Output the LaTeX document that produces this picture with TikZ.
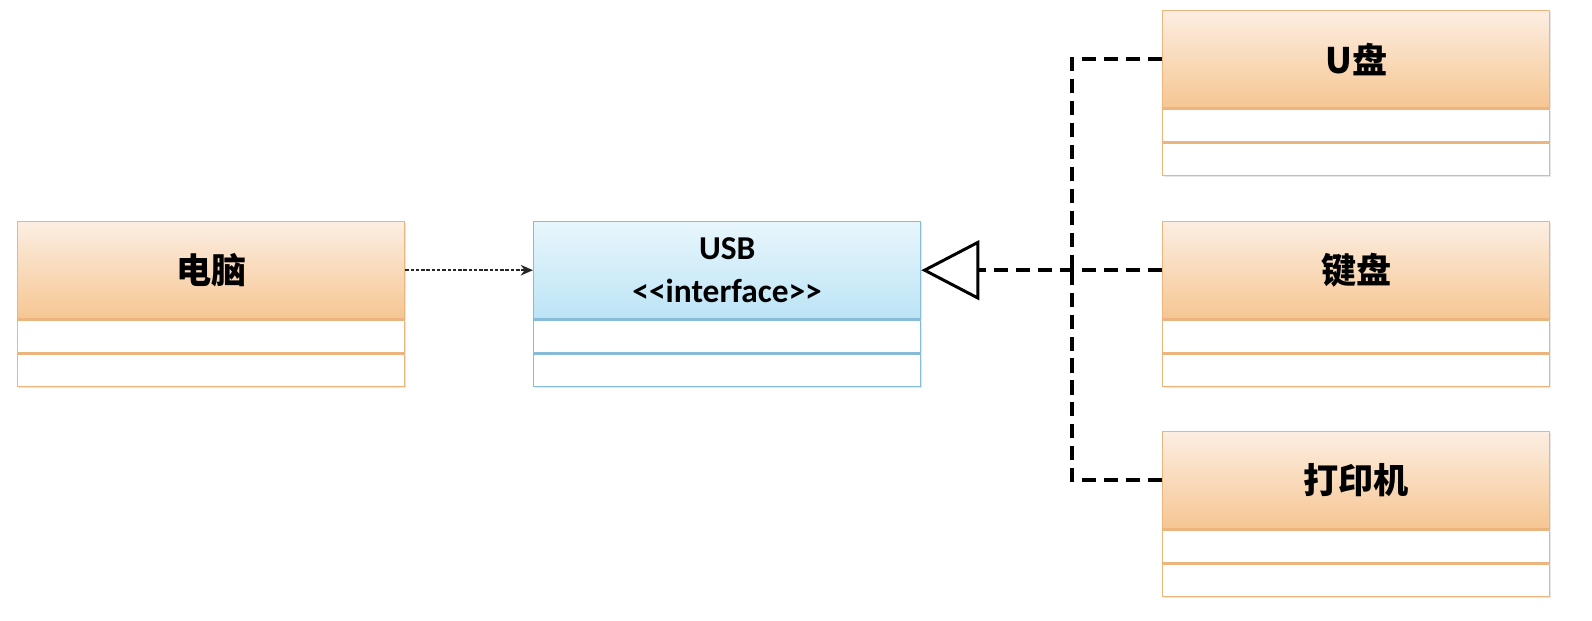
\documentclass[tikz,border=0pt]{standalone}
\usepackage{fontspec}
\setmainfont{Carlito}
\newfontfamily\cjk{Noto Sans CJK SC}
\usetikzlibrary{arrows.meta,shadows}
\definecolor{orangetop}{HTML}{FCEEE2}
\definecolor{orangebot}{HTML}{F6C692}
\definecolor{orangeline}{HTML}{EDB57E}
\definecolor{bluetop}{HTML}{E8F6FC}
\definecolor{bluebot}{HTML}{BCE4F6}
\definecolor{blueline}{HTML}{86BCD8}
\tikzset{
  boxw/.style={minimum width=7.74cm, inner sep=0pt, line width=0.8pt,
    drop shadow={opacity=0.2, shadow xshift=0.6pt, shadow yshift=-0.8pt}},
  hdrorange/.style={boxw, draw=orangeline, top color=orangetop, bottom color=orangebot,
    minimum height=1.94cm, font=\cjk\bfseries\fontsize{20}{24}\selectfont},
  hdrblue/.style={boxw, draw=blueline, top color=bluetop, bottom color=bluebot,
    minimum height=1.94cm, align=center, font=\bfseries\fontsize{19}{25}\selectfont},
  roworange/.style={boxw, draw=orangeline, fill=white, minimum height=0.65cm, anchor=north},
  rowblue/.style={boxw, draw=blueline, fill=white, minimum height=0.65cm, anchor=north},
  dep/.style={draw=black!85, line width=1.2pt, dash pattern=on 2pt off 1pt,
    -{Stealth[length=7pt,width=6pt]}},
  real/.style={draw=black, line width=2.2pt, dash pattern=on 8pt off 4.5pt},
  realtip/.style={real, -{Triangle[open, length=33pt, width=34pt, line width=1.7pt]}}
}
\begin{document}
\begin{tikzpicture}[x=0.02cm, y=-0.02cm]
  \useasboundingbox (0,0) rectangle (1592,620);

  % client class
  \node[hdrorange, anchor=north west] (pc) at (17,221) {电脑};
  \node[roworange] (pc1) at (pc.south) {};
  \node[roworange] (pc2) at (pc1.south) {};

  % interface
  \node[hdrblue, anchor=north west] (usb) at (533,221) {USB\\<{}<interface>{}>};
  \node[rowblue] (usb1) at (usb.south) {};
  \node[rowblue] (usb2) at (usb1.south) {};

  % implementing classes
  \node[hdrorange, anchor=north west] (ud) at (1162,10) {U盘};
  \node[roworange] (ud1) at (ud.south) {};
  \node[roworange] (ud2) at (ud1.south) {};

  \node[hdrorange, anchor=north west] (kb) at (1162,221) {键盘};
  \node[roworange] (kb1) at (kb.south) {};
  \node[roworange] (kb2) at (kb1.south) {};

  \node[hdrorange, anchor=north west] (pr) at (1162,431) {打印机};
  \node[roworange] (pr1) at (pr.south) {};
  \node[roworange] (pr2) at (pr1.south) {};

  % connectors
  \draw[dep] (pc.east) -- (usb.west);

  \coordinate (trunk) at (1072,268);
  \draw[real] (ud.west) -| (trunk);
  \draw[real] (pr.west) -| (trunk);
  \draw[realtip] (kb.west) -- (usb.east);
\end{tikzpicture}
\end{document}
